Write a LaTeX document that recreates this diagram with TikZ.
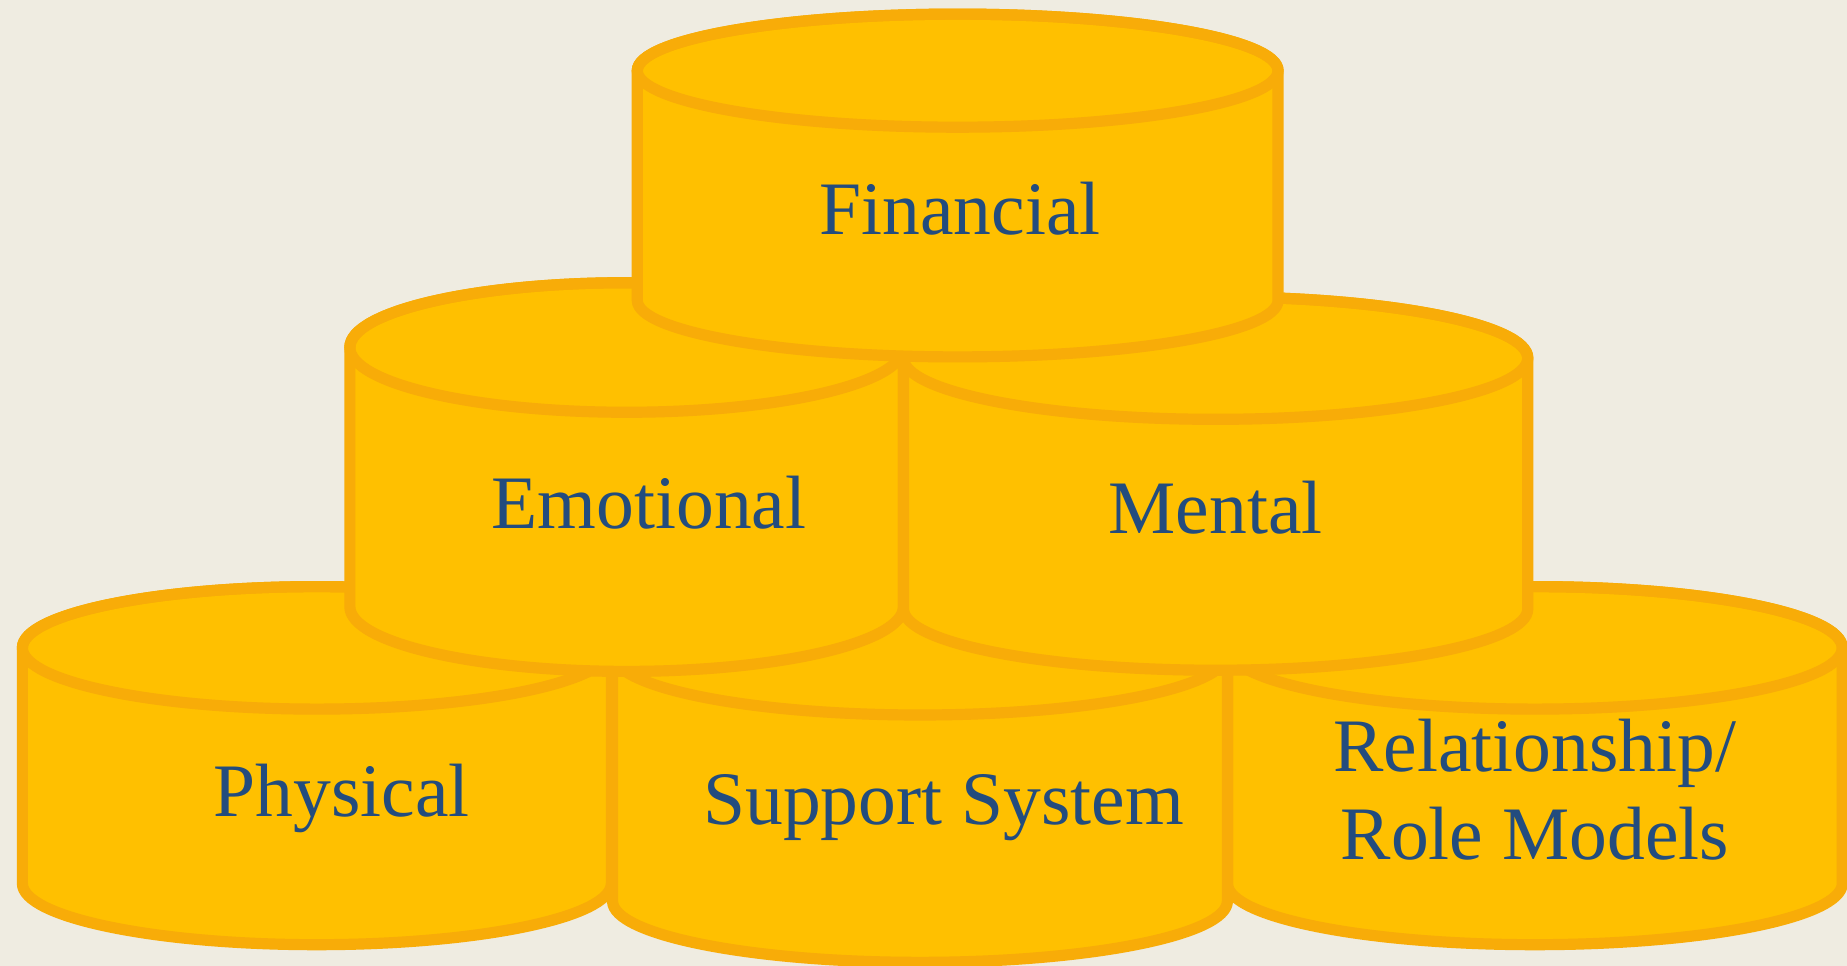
\documentclass[tikz,border=0pt]{standalone}
\usepackage{fontspec}
\setmainfont{Liberation Serif}
\definecolor{bgc}{HTML}{EFECE1}
\definecolor{gold}{HTML}{FFC000}
\definecolor{rim}{HTML}{F8AC08}
\definecolor{txt}{HTML}{234C7E}
\newcommand{\drum}[5]{% cx, ytop, ybot, rx, ry
  \path[drumbody] (#1-#4,#2) -- (#1-#4,#3)
    arc[start angle=180,end angle=360,x radius=#4,y radius=#5]
    -- (#1+#4,#2)
    arc[start angle=0,end angle=180,x radius=#4,y radius=#5] -- cycle;
  \draw[drumrim] (#1,#2) ellipse[x radius=#4,y radius=#5];
}
\begin{document}
\begin{tikzpicture}[x=0.02cm,y=0.02cm,
  drumbody/.style={fill=gold,draw=rim,line width=5.4pt,line join=round},
  drumrim/.style={draw=rim,line width=5.4pt},
  lbl/.style={text=txt,font=\fontsize{36.5}{42.5}\selectfont,anchor=base,inner sep=0pt,align=center}]
\fill[bgc] (0,0) rectangle (1568,820);
\useasboundingbox (0,0) rectangle (1568,820);
% bottom row
\drum{269}{270}{70}{250}{52}
\drum{1303}{270}{70}{261}{52}
\drum{781}{265}{55}{261}{52}
% middle row
\drum{532}{525}{305}{235}{55}
\drum{1032}{516}{303}{265}{52}
% top
\drum{813}{760}{565}{272}{48}
% labels
\node[lbl] (fin) at (815,621) {Financial};
\node[lbl] (emo) at (551,371) {Emotional};
\node[lbl] (men) at (1032,367) {Mental};
\node[lbl] (phy) at (290,127) {Physical};
\node[lbl] (sup) at (801,120) {Support System};
\node[lbl] (rel1) at (1303,165) {Relationship/};
\node[lbl] (rel2) at (1303,90) {Role Models};
\end{tikzpicture}
\end{document}
